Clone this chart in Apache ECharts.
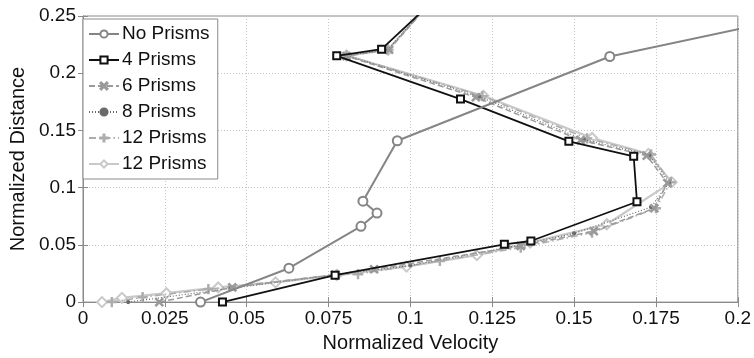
<!DOCTYPE html>
<html>
<head>
<meta charset="utf-8">
<script src="https://cdn.jsdelivr.net/npm/echarts@6/dist/echarts.min.js"></script>
<style>
  html, body { margin: 0; padding: 0; background: #fff; }
  #chart { width: 754px; height: 358px; }
</style>
</head>
<body>
<div id="chart"></div>
<script>
// Velocity profiles: normalized velocity (x) vs normalized distance (y)
const xTicks = [0, 0.025, 0.05, 0.075, 0.1, 0.125, 0.15, 0.175, 0.2];
const yTicks = [0, 0.05, 0.1, 0.15, 0.2, 0.25];

const noPrismsX = [0.0359, 0.0629, 0.0849, 0.0898, 0.0855, 0.0960, 0.1609, 0.2300];
const noPrismsY = [0.0000, 0.0296, 0.0662, 0.0778, 0.0882, 0.1410, 0.2146, 0.2566];

const fourX = [0.0426, 0.0770, 0.1287, 0.1368, 0.1692, 0.1682, 0.1484, 0.1153, 0.0775, 0.0912, 0.1058];
const fourY = [0.0000, 0.0235, 0.0505, 0.0534, 0.0877, 0.1274, 0.1405, 0.1774, 0.2152, 0.2210, 0.2600];

const sixX = [0.0233, 0.0456, 0.0770, 0.0889, 0.1337, 0.1560, 0.1745, 0.1785, 0.1722, 0.1520, 0.1200, 0.0805, 0.0935, 0.1055];
const sixY = [0.0000, 0.0128, 0.0240, 0.0287, 0.0490, 0.0620, 0.0820, 0.1040, 0.1280, 0.1415, 0.1790, 0.2150, 0.2205, 0.2600];

const eightX = [0.0138, 0.0450, 0.0775, 0.1000, 0.1300, 0.1500, 0.1735, 0.1790, 0.1730, 0.1530, 0.1210, 0.0805, 0.0930, 0.1055];
const eightY = [0.0000, 0.0120, 0.0240, 0.0320, 0.0480, 0.0600, 0.0830, 0.1045, 0.1285, 0.1420, 0.1795, 0.2155, 0.2205, 0.2600];

const twelveAX = [0.0088, 0.0182, 0.0383, 0.0775, 0.0840, 0.1090, 0.1337, 0.1555, 0.1750, 0.1795, 0.1735, 0.1540, 0.1220, 0.0805, 0.0930, 0.1055];
const twelveAY = [0.0000, 0.0043, 0.0113, 0.0240, 0.0244, 0.0360, 0.0476, 0.0607, 0.0820, 0.1048, 0.1290, 0.1430, 0.1800, 0.2155, 0.2205, 0.2600];

const twelveBX = [0.0058, 0.0119, 0.0255, 0.0413, 0.0588, 0.0775, 0.0988, 0.1203, 0.1366, 0.1600, 0.1798, 0.1727, 0.1555, 0.1223, 0.0805, 0.0932, 0.1055];
const twelveBY = [0.0000, 0.0037, 0.0078, 0.0128, 0.0172, 0.0235, 0.0310, 0.0410, 0.0520, 0.0680, 0.1048, 0.1295, 0.1434, 0.1803, 0.2155, 0.2204, 0.2600];

const seriesNames = ['No Prisms', '4 Prisms', '6 Prisms', '8 Prisms', '12 Prisms', '12 Prisms '];

const pairs = (xs, ys) => xs.map((x, i) => [x, ys[i]]);

const FONT = '"Liberation Sans", Arial, Helvetica, sans-serif';
const xMark = 'path://M0,1.2L1.2,0L5,3.8L8.8,0L10,1.2L6.2,5L10,8.8L8.8,10L5,6.2L1.2,10L0,8.8L3.8,5Z';
const plusMark = 'path://M4.3,0H5.7V4.3H10V5.7H5.7V10H4.3V5.7H0V4.3H4.3Z';

function lineSeries(name, xs, ys, color, width, type, symbol, size, z) {
  return {
    name: name,
    type: 'line',
    data: pairs(xs, ys),
    showSymbol: true,
    symbol: symbol,
    symbolSize: size,
    clip: true,
    z: z,
    lineStyle: { color: color, width: width, type: type },
    itemStyle: { color: color, borderColor: color, borderWidth: 1.2 },
    emphasis: { disabled: true }
  };
}

const chart = echarts.init(document.getElementById('chart'));
chart.setOption({
  animation: false,
  textStyle: { fontFamily: FONT },
  grid: { left: 80, right: 16, top: 16, bottom: 55, show: true, borderColor: '#8a8a8a', borderWidth: 1 },
  legend: {
    orient: 'vertical',
    left: 83, top: 19,
    padding: [5, 6, 5, 5],
    itemGap: 6,
    itemWidth: 30,
    itemHeight: 9,
    backgroundColor: '#fff',
    borderColor: '#8a8a8a',
    borderWidth: 1,
    selectedMode: false,
    data: seriesNames,
    textStyle: { fontFamily: FONT, fontSize: 19, color: '#111', lineHeight: 20, padding: [0, 0, 0, -2] }
  },
  xAxis: [{
    type: 'value', min: xTicks[0], max: xTicks[xTicks.length - 1], interval: xTicks[1] - xTicks[0],
    name: 'Normalized Velocity', nameLocation: 'middle', nameGap: 28,
    nameTextStyle: { fontFamily: FONT, fontSize: 20, color: '#111' },
    axisLine: { show: true, lineStyle: { color: '#8a8a8a' } },
    axisTick: { show: true, inside: true, length: 5, lineStyle: { color: '#8a8a8a' } },
    axisLabel: { fontFamily: FONT, fontSize: 19, color: '#111', margin: 7,
      formatter: v => String(+v.toFixed(3)) },
    splitLine: { show: true, lineStyle: { color: '#c4c4c4', type: [1, 2], width: 1 } }
  }, {
    type: 'value', position: 'top', min: xTicks[0], max: xTicks[xTicks.length - 1], interval: xTicks[1] - xTicks[0],
    axisLine: { show: true, lineStyle: { color: '#8a8a8a' } },
    axisTick: { show: true, inside: true, length: 5, lineStyle: { color: '#8a8a8a' } },
    axisLabel: { show: false }, splitLine: { show: false }
  }],
  yAxis: [{
    type: 'value', min: yTicks[0], max: yTicks[yTicks.length - 1], interval: yTicks[1] - yTicks[0],
    name: 'Normalized Distance', nameLocation: 'middle', nameGap: 55,
    nameTextStyle: { fontFamily: FONT, fontSize: 20, color: '#111' },
    axisLine: { show: true, lineStyle: { color: '#8a8a8a' } },
    axisTick: { show: true, inside: true, length: 5, lineStyle: { color: '#8a8a8a' } },
    axisLabel: { fontFamily: FONT, fontSize: 19, color: '#111', margin: 7,
      formatter: v => String(+v.toFixed(3)) },
    splitLine: { show: true, lineStyle: { color: '#c4c4c4', type: [1, 2], width: 1 } }
  }, {
    type: 'value', position: 'right', min: yTicks[0], max: yTicks[yTicks.length - 1], interval: yTicks[1] - yTicks[0],
    axisLine: { show: true, lineStyle: { color: '#8a8a8a' } },
    axisTick: { show: true, inside: true, length: 5, lineStyle: { color: '#8a8a8a' } },
    axisLabel: { show: false }, splitLine: { show: false }
  }],
  series: [
    lineSeries(seriesNames[5], twelveBX, twelveBY, '#c9c9c9', 2.2, 'solid', 'emptyDiamond', 10, 2),
    lineSeries(seriesNames[4], twelveAX, twelveAY, '#adadad', 1.5, [7, 3, 1.5, 3], plusMark, 9, 3),
    lineSeries(seriesNames[3], eightX, eightY, '#6a6a6a', 1.2, [1, 2], 'circle', 3, 4),
    lineSeries(seriesNames[2], sixX, sixY, '#9a9a9a', 1.5, [6, 3], xMark, 8, 5),
    lineSeries(seriesNames[1], fourX, fourY, '#111111', 1.8, 'solid', 'emptyRect', 7, 6),
    lineSeries(seriesNames[0], noPrismsX, noPrismsY, '#858585', 2, 'solid', 'emptyCircle', 9, 7)
  ]
});
</script>
</body>
</html>
